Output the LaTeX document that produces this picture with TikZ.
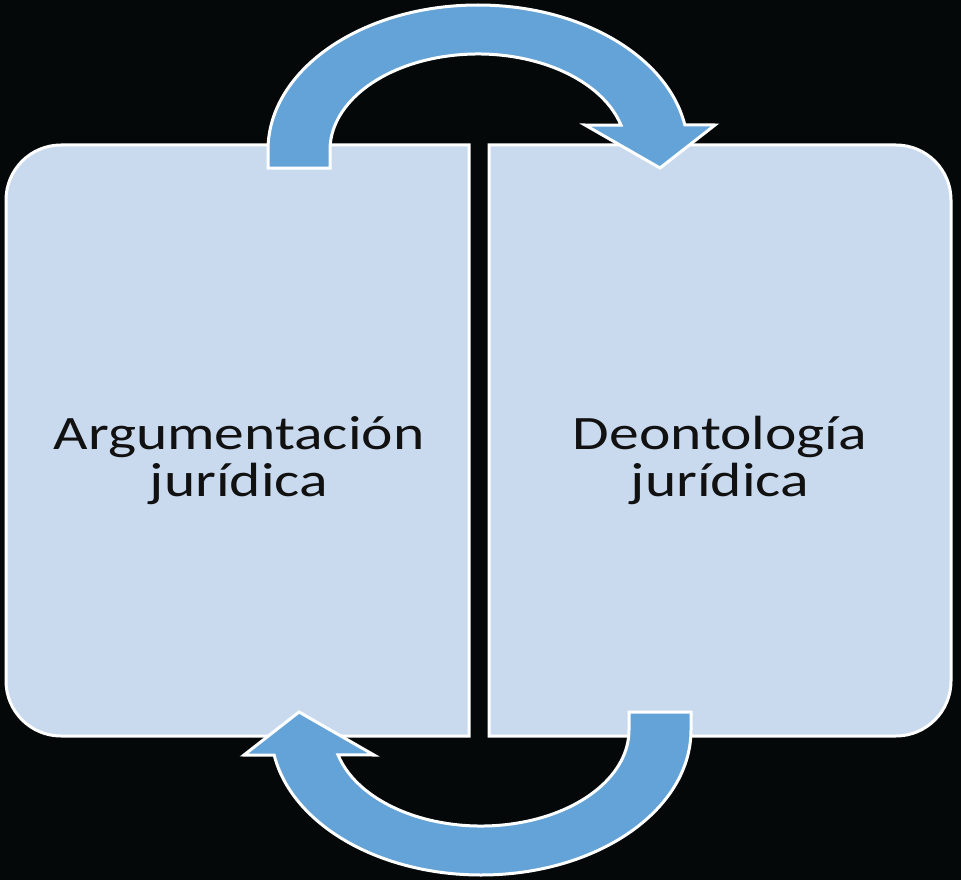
\documentclass[tikz,border=0pt]{standalone}
\usepackage{fontspec}
\setmainfont{Carlito}[FakeStretch=1.24]
\definecolor{bgcol}{RGB}{4,8,8}
\definecolor{boxblue}{RGB}{201,218,239}
\definecolor{arrowblue}{RGB}{100,163,215}
\definecolor{txtcol}{RGB}{17,17,17}
\begin{document}
\begin{tikzpicture}[x=1pt,y=-1pt,
  boxshape/.style={fill=boxblue, draw=white, line width=3pt},
  arrowshape/.style={fill=arrowblue, draw=white, line width=3pt, line join=miter},
  boxtext/.style={anchor=base, inner sep=0pt, text=txtcol, font=\fontsize{48}{47}\selectfont}]
\fill[bgcol] (0,0) rectangle (961,880);
\useasboundingbox (0,0) rectangle (961,880);
% left box
\path[boxshape] (469,145) -- (61,145) arc[start angle=270, end angle=180, radius=55]
  -- (6,681) arc[start angle=180, end angle=90, radius=55] -- (469,736) -- cycle;
% right box
\path[boxshape] (489,145) -- (896,145) arc[start angle=270, end angle=360, radius=55]
  -- (951,681) arc[start angle=0, end angle=90, radius=55] -- (489,736) -- cycle;
% texts
\node[boxtext] (argu) at (239,449) {\begin{tabular}[t]{@{}c@{}}Argumentación\\jurídica\end{tabular}};
\node[boxtext] (deon) at (720,449) {\begin{tabular}[t]{@{}c@{}}Deontología\\jurídica\end{tabular}};
% top arrow
\path[arrowshape] (268,168) -- (268,150)
  arc[start angle=180, end angle=350, x radius=210, y radius=145]
  -- (715,125) -- (660,168) -- (585,125) -- (620.96,125.15)
  arc[start angle=345, end angle=180, x radius=148, y radius=96]
  -- (330,168) -- cycle;
% bottom arrow
\begin{scope}[rotate around={180:(479.5,440)}]
\path[arrowshape] (268,168) -- (268,150)
  arc[start angle=180, end angle=350, x radius=210, y radius=145]
  -- (715,125) -- (660,168) -- (585,125) -- (620.96,125.15)
  arc[start angle=345, end angle=180, x radius=148, y radius=96]
  -- (330,168) -- cycle;
\end{scope}
\end{tikzpicture}
\end{document}
